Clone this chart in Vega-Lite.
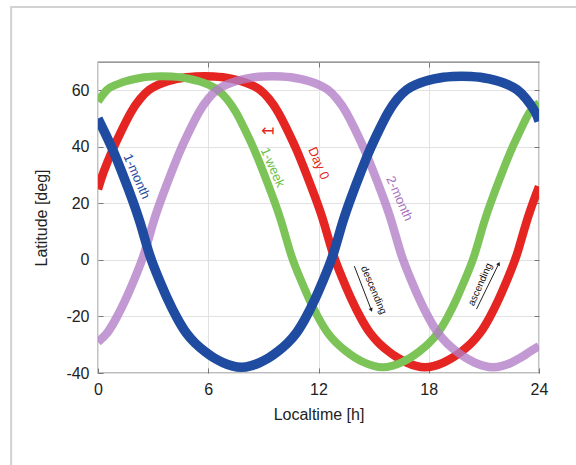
{
  "$schema": "https://vega.github.io/schema/vega-lite/v6.json",
  "autosize": {"type": "none"},
  "width": 441,
  "height": 311,
  "padding": {"left": 98, "top": 62, "right": 37, "bottom": 92},
  "background": "white",
  "config": {
    "view": {"stroke": "#7a7a7a", "strokeWidth": 1.3},
    "font": "Liberation Sans",
    "axis": {
      "domain": false,
      "ticks": true,
      "tickSize": -5,
      "tickColor": "#777777",
      "gridColor": "#e2e2e2",
      "gridWidth": 1,
      "labelFont": "Liberation Sans",
      "labelFontSize": 16,
      "labelColor": "#222222",
      "titleFont": "Liberation Sans",
      "titleFontSize": 16,
      "titleFontWeight": "normal",
      "titleColor": "#222222"
    }
  },
  "resolve": {"axis": {"x": "independent", "y": "independent"}},
  "datasets": {
    "curves": [
      {"series": "Day 0", "h": 0, "lat": 25}, {"series": "Day 0", "h": 0.3, "lat": 31}, {"series": "Day 0", "h": 0.8, "lat": 39}, {"series": "Day 0", "h": 1.3, "lat": 46}, {"series": "Day 0", "h": 1.8, "lat": 52.3}, {"series": "Day 0", "h": 2.3, "lat": 57}, {"series": "Day 0", "h": 2.8, "lat": 60.2}, {"series": "Day 0", "h": 3.3, "lat": 62}, {"series": "Day 0", "h": 3.8, "lat": 63.2}, {"series": "Day 0", "h": 4.3, "lat": 64}, {"series": "Day 0", "h": 4.8, "lat": 64.6}, {"series": "Day 0", "h": 5.3, "lat": 64.9}, {"series": "Day 0", "h": 5.8, "lat": 65}, {"series": "Day 0", "h": 6.3, "lat": 64.9}, {"series": "Day 0", "h": 6.8, "lat": 64.6}, {"series": "Day 0", "h": 7.3, "lat": 64}, {"series": "Day 0", "h": 7.8, "lat": 63.2}, {"series": "Day 0", "h": 8.3, "lat": 62}, {"series": "Day 0", "h": 8.8, "lat": 60.2}, {"series": "Day 0", "h": 9.3, "lat": 57}, {"series": "Day 0", "h": 9.8, "lat": 52.3}, {"series": "Day 0", "h": 10.3, "lat": 46}, {"series": "Day 0", "h": 10.8, "lat": 39}, {"series": "Day 0", "h": 11.3, "lat": 31}, {"series": "Day 0", "h": 11.8, "lat": 22.5}, {"series": "Day 0", "h": 12.3, "lat": 13}, {"series": "Day 0", "h": 12.8, "lat": 2}, {"series": "Day 0", "h": 13.3, "lat": -6.5}, {"series": "Day 0", "h": 13.8, "lat": -14}, {"series": "Day 0", "h": 14.3, "lat": -20.5}, {"series": "Day 0", "h": 14.8, "lat": -25.8}, {"series": "Day 0", "h": 15.3, "lat": -29.5}, {"series": "Day 0", "h": 15.8, "lat": -32.3}, {"series": "Day 0", "h": 16.3, "lat": -34.6}, {"series": "Day 0", "h": 16.8, "lat": -36.3}, {"series": "Day 0", "h": 17.3, "lat": -37.5}, {"series": "Day 0", "h": 17.8, "lat": -38}, {"series": "Day 0", "h": 18.3, "lat": -37.5}, {"series": "Day 0", "h": 18.8, "lat": -36.3}, {"series": "Day 0", "h": 19.3, "lat": -34.6}, {"series": "Day 0", "h": 19.8, "lat": -32.3}, {"series": "Day 0", "h": 20.3, "lat": -29.5}, {"series": "Day 0", "h": 20.8, "lat": -25.8}, {"series": "Day 0", "h": 21.3, "lat": -20.5}, {"series": "Day 0", "h": 21.8, "lat": -14}, {"series": "Day 0", "h": 22.3, "lat": -6.5}, {"series": "Day 0", "h": 22.8, "lat": 2}, {"series": "Day 0", "h": 23.3, "lat": 13}, {"series": "Day 0", "h": 23.8, "lat": 22.5}, {"series": "Day 0", "h": 24, "lat": 26},

      {"series": "1-week", "h": 0, "lat": 56}, {"series": "1-week", "h": 0.5, "lat": 60.2}, {"series": "1-week", "h": 1, "lat": 62}, {"series": "1-week", "h": 1.5, "lat": 63.2}, {"series": "1-week", "h": 2, "lat": 64}, {"series": "1-week", "h": 2.5, "lat": 64.6}, {"series": "1-week", "h": 3, "lat": 64.9}, {"series": "1-week", "h": 3.5, "lat": 65}, {"series": "1-week", "h": 4, "lat": 64.9}, {"series": "1-week", "h": 4.5, "lat": 64.6}, {"series": "1-week", "h": 5, "lat": 64}, {"series": "1-week", "h": 5.5, "lat": 63.2}, {"series": "1-week", "h": 6, "lat": 62}, {"series": "1-week", "h": 6.5, "lat": 60.2}, {"series": "1-week", "h": 7, "lat": 57}, {"series": "1-week", "h": 7.5, "lat": 52.3}, {"series": "1-week", "h": 8, "lat": 46}, {"series": "1-week", "h": 8.5, "lat": 39}, {"series": "1-week", "h": 9, "lat": 31}, {"series": "1-week", "h": 9.5, "lat": 22.5}, {"series": "1-week", "h": 10, "lat": 13}, {"series": "1-week", "h": 10.5, "lat": 2}, {"series": "1-week", "h": 11, "lat": -6.5}, {"series": "1-week", "h": 11.5, "lat": -14}, {"series": "1-week", "h": 12, "lat": -20.5}, {"series": "1-week", "h": 12.5, "lat": -25.8}, {"series": "1-week", "h": 13, "lat": -29.5}, {"series": "1-week", "h": 13.5, "lat": -32.3}, {"series": "1-week", "h": 14, "lat": -34.6}, {"series": "1-week", "h": 14.5, "lat": -36.3}, {"series": "1-week", "h": 15, "lat": -37.5}, {"series": "1-week", "h": 15.5, "lat": -38}, {"series": "1-week", "h": 16, "lat": -37.5}, {"series": "1-week", "h": 16.5, "lat": -36.3}, {"series": "1-week", "h": 17, "lat": -34.6}, {"series": "1-week", "h": 17.5, "lat": -32.3}, {"series": "1-week", "h": 18, "lat": -29.5}, {"series": "1-week", "h": 18.5, "lat": -25.8}, {"series": "1-week", "h": 19, "lat": -20.5}, {"series": "1-week", "h": 19.5, "lat": -14}, {"series": "1-week", "h": 20, "lat": -6.5}, {"series": "1-week", "h": 20.5, "lat": 2}, {"series": "1-week", "h": 21, "lat": 13}, {"series": "1-week", "h": 21.5, "lat": 22.5}, {"series": "1-week", "h": 22, "lat": 31}, {"series": "1-week", "h": 22.5, "lat": 39}, {"series": "1-week", "h": 23, "lat": 46}, {"series": "1-week", "h": 23.5, "lat": 52.3}, {"series": "1-week", "h": 24, "lat": 55.5},

      {"series": "2-month", "h": 0, "lat": -29}, {"series": "2-month", "h": 0.5, "lat": -25.8}, {"series": "2-month", "h": 1, "lat": -20.5}, {"series": "2-month", "h": 1.5, "lat": -14}, {"series": "2-month", "h": 2, "lat": -6.5}, {"series": "2-month", "h": 2.5, "lat": 2}, {"series": "2-month", "h": 3, "lat": 13}, {"series": "2-month", "h": 3.5, "lat": 22.5}, {"series": "2-month", "h": 4, "lat": 31}, {"series": "2-month", "h": 4.5, "lat": 39}, {"series": "2-month", "h": 5, "lat": 46}, {"series": "2-month", "h": 5.5, "lat": 52.3}, {"series": "2-month", "h": 6, "lat": 57}, {"series": "2-month", "h": 6.5, "lat": 60.2}, {"series": "2-month", "h": 7, "lat": 62}, {"series": "2-month", "h": 7.5, "lat": 63.2}, {"series": "2-month", "h": 8, "lat": 64}, {"series": "2-month", "h": 8.5, "lat": 64.6}, {"series": "2-month", "h": 9, "lat": 64.9}, {"series": "2-month", "h": 9.5, "lat": 65}, {"series": "2-month", "h": 10, "lat": 64.9}, {"series": "2-month", "h": 10.5, "lat": 64.6}, {"series": "2-month", "h": 11, "lat": 64}, {"series": "2-month", "h": 11.5, "lat": 63.2}, {"series": "2-month", "h": 12, "lat": 62}, {"series": "2-month", "h": 12.5, "lat": 60.2}, {"series": "2-month", "h": 13, "lat": 57}, {"series": "2-month", "h": 13.5, "lat": 52.3}, {"series": "2-month", "h": 14, "lat": 46}, {"series": "2-month", "h": 14.5, "lat": 39}, {"series": "2-month", "h": 15, "lat": 31}, {"series": "2-month", "h": 15.5, "lat": 22.5}, {"series": "2-month", "h": 16, "lat": 13}, {"series": "2-month", "h": 16.5, "lat": 2}, {"series": "2-month", "h": 17, "lat": -6.5}, {"series": "2-month", "h": 17.5, "lat": -14}, {"series": "2-month", "h": 18, "lat": -20.5}, {"series": "2-month", "h": 18.5, "lat": -25.8}, {"series": "2-month", "h": 19, "lat": -29.5}, {"series": "2-month", "h": 19.5, "lat": -32.3}, {"series": "2-month", "h": 20, "lat": -34.6}, {"series": "2-month", "h": 20.5, "lat": -36.3}, {"series": "2-month", "h": 21, "lat": -37.5}, {"series": "2-month", "h": 21.5, "lat": -38}, {"series": "2-month", "h": 22, "lat": -37.5}, {"series": "2-month", "h": 22.5, "lat": -36.3}, {"series": "2-month", "h": 23, "lat": -34.6}, {"series": "2-month", "h": 23.5, "lat": -32.5}, {"series": "2-month", "h": 24, "lat": -30.5},

      {"series": "1-month", "h": 0, "lat": 50}, {"series": "1-month", "h": 0.3, "lat": 46}, {"series": "1-month", "h": 0.8, "lat": 39}, {"series": "1-month", "h": 1.3, "lat": 31}, {"series": "1-month", "h": 1.8, "lat": 22.5}, {"series": "1-month", "h": 2.3, "lat": 13}, {"series": "1-month", "h": 2.8, "lat": 2}, {"series": "1-month", "h": 3.3, "lat": -6.5}, {"series": "1-month", "h": 3.8, "lat": -14}, {"series": "1-month", "h": 4.3, "lat": -20.5}, {"series": "1-month", "h": 4.8, "lat": -25.8}, {"series": "1-month", "h": 5.3, "lat": -29.5}, {"series": "1-month", "h": 5.8, "lat": -32.3}, {"series": "1-month", "h": 6.3, "lat": -34.6}, {"series": "1-month", "h": 6.8, "lat": -36.3}, {"series": "1-month", "h": 7.3, "lat": -37.5}, {"series": "1-month", "h": 7.8, "lat": -38}, {"series": "1-month", "h": 8.3, "lat": -37.5}, {"series": "1-month", "h": 8.8, "lat": -36.3}, {"series": "1-month", "h": 9.3, "lat": -34.6}, {"series": "1-month", "h": 9.8, "lat": -32.3}, {"series": "1-month", "h": 10.3, "lat": -29.5}, {"series": "1-month", "h": 10.8, "lat": -25.8}, {"series": "1-month", "h": 11.3, "lat": -20.5}, {"series": "1-month", "h": 11.8, "lat": -14}, {"series": "1-month", "h": 12.3, "lat": -6.5}, {"series": "1-month", "h": 12.8, "lat": 2}, {"series": "1-month", "h": 13.3, "lat": 13}, {"series": "1-month", "h": 13.8, "lat": 22.5}, {"series": "1-month", "h": 14.3, "lat": 31}, {"series": "1-month", "h": 14.8, "lat": 39}, {"series": "1-month", "h": 15.3, "lat": 46}, {"series": "1-month", "h": 15.8, "lat": 52.3}, {"series": "1-month", "h": 16.3, "lat": 57}, {"series": "1-month", "h": 16.8, "lat": 60.2}, {"series": "1-month", "h": 17.3, "lat": 62}, {"series": "1-month", "h": 17.8, "lat": 63.2}, {"series": "1-month", "h": 18.3, "lat": 64}, {"series": "1-month", "h": 18.8, "lat": 64.6}, {"series": "1-month", "h": 19.3, "lat": 64.9}, {"series": "1-month", "h": 19.8, "lat": 65}, {"series": "1-month", "h": 20.3, "lat": 64.9}, {"series": "1-month", "h": 20.8, "lat": 64.6}, {"series": "1-month", "h": 21.3, "lat": 64}, {"series": "1-month", "h": 21.8, "lat": 63.2}, {"series": "1-month", "h": 22.3, "lat": 62}, {"series": "1-month", "h": 22.8, "lat": 60.2}, {"series": "1-month", "h": 23.3, "lat": 57}, {"series": "1-month", "h": 23.8, "lat": 52.3}, {"series": "1-month", "h": 24, "lat": 49}
    ],
    "labels": [
      {"series": "1-month", "text": "1-month", "h": 2.1, "lat": 29.5},
      {"series": "1-week", "text": "1-week", "h": 9.5, "lat": 32.7},
      {"series": "Day 0", "text": "Day 0", "h": 12.0, "lat": 34.1},
      {"series": "2-month", "text": "2-month", "h": 16.4, "lat": 21.7}
    ],
    "pointer": [{"series": "Day 0", "text": "↤", "h": 9.25, "lat": 45.5}],
    "desc": [{"text": "descending", "h": 15.0, "lat": -10.7}],
    "asc": [{"text": "ascending", "h": 20.8, "lat": -8.7}],
    "descArrow": [{"h": 13.95, "lat": -2.2, "h2": 14.86, "lat2": -17.5}],
    "ascArrow": [{"h": 20.6, "lat": -17.4, "h2": 21.8, "lat2": -1.5}],
    "frame": [{"left": -4.73, "right": 26.23, "top": 89.45, "bottom": -74.3}]
  },
  "layer": [
    {
      "data": {"name": "frame"},
      "mark": {"type": "rect", "filled": false, "stroke": "#d2d2d2", "strokeWidth": 2, "clip": false},
      "encoding": {
        "x": {"field": "left", "type": "quantitative", "scale": {"domain": [0, 24], "nice": false, "zero": false}, "axis": {"values": [0, 6, 12, 18, 24], "title": "Localtime [h]", "labelPadding": 13, "titlePadding": 9, "labelFlush": false}},
        "x2": {"field": "right"},
        "y": {"field": "top", "type": "quantitative", "scale": {"domain": [-40, 70], "nice": false, "zero": false}, "axis": {"values": [-40, -20, 0, 20, 40, 60], "title": "Latitude [deg]", "labelPadding": 14, "titlePadding": 16, "labelFlush": false, "labelExpr": "datum.value + ''"}},
        "y2": {"field": "bottom"}
      }
    },
    {
      "data": {"name": "frame"},
      "mark": {"type": "point", "opacity": 0},
      "encoding": {
        "x": {"field": "left", "type": "quantitative", "axis": {"orient": "top", "values": [6, 12, 18], "labels": false, "title": null, "grid": false}},
        "y": {"field": "top", "type": "quantitative", "axis": {"orient": "right", "values": [-20, 0, 20, 40, 60], "labels": false, "title": null, "grid": false}}
      }
    },
    {
      "data": {"name": "curves"},
      "transform": [{"filter": "datum.series === 'Day 0'"}],
      "mark": {"type": "line", "strokeWidth": 8.5, "interpolate": "natural", "color": "#e52521", "clip": true},
      "encoding": {"x": {"field": "h", "type": "quantitative", "axis": null}, "y": {"field": "lat", "type": "quantitative", "axis": null}}
    },
    {
      "data": {"name": "curves"},
      "transform": [{"filter": "datum.series === '1-week'"}],
      "mark": {"type": "line", "strokeWidth": 8, "interpolate": "natural", "color": "#7cc458", "clip": true},
      "encoding": {"x": {"field": "h", "type": "quantitative", "axis": null}, "y": {"field": "lat", "type": "quantitative", "axis": null}}
    },
    {
      "data": {"name": "curves"},
      "transform": [{"filter": "datum.series === '2-month'"}],
      "mark": {"type": "line", "strokeWidth": 8.5, "interpolate": "natural", "color": "#b27cc6", "opacity": 0.78, "clip": true},
      "encoding": {"x": {"field": "h", "type": "quantitative", "axis": null}, "y": {"field": "lat", "type": "quantitative", "axis": null}}
    },
    {
      "data": {"name": "curves"},
      "transform": [{"filter": "datum.series === '1-month'"}],
      "mark": {"type": "line", "strokeWidth": 9.5, "interpolate": "natural", "color": "#1f4ca0", "clip": true},
      "encoding": {"x": {"field": "h", "type": "quantitative", "axis": null}, "y": {"field": "lat", "type": "quantitative", "axis": null}}
    },
    {
      "data": {"name": "labels"},
      "mark": {"type": "text", "angle": 66, "fontSize": 13, "font": "Liberation Sans", "align": "center", "baseline": "middle"},
      "encoding": {
        "x": {"field": "h", "type": "quantitative", "axis": null},
        "y": {"field": "lat", "type": "quantitative", "axis": null},
        "text": {"field": "text"},
        "color": {"field": "series", "type": "nominal", "scale": {"domain": ["Day 0", "1-week", "2-month", "1-month"], "range": ["#e52521", "#6fbf4a", "#a873bf", "#1f4ca0"]}, "legend": null}
      }
    },
    {
      "data": {"name": "pointer"},
      "mark": {"type": "text", "fontSize": 16, "font": "DejaVu Sans", "color": "#e52521", "align": "center", "baseline": "middle"},
      "encoding": {"x": {"field": "h", "type": "quantitative", "axis": null}, "y": {"field": "lat", "type": "quantitative", "axis": null}, "text": {"field": "text"}}
    },
    {
      "data": {"name": "desc"},
      "mark": {"type": "text", "angle": 67, "fontSize": 10, "font": "Liberation Sans", "color": "#111111", "align": "center", "baseline": "middle"},
      "encoding": {"x": {"field": "h", "type": "quantitative", "axis": null}, "y": {"field": "lat", "type": "quantitative", "axis": null}, "text": {"field": "text"}}
    },
    {
      "data": {"name": "asc"},
      "mark": {"type": "text", "angle": -66, "fontSize": 10, "font": "Liberation Sans", "color": "#111111", "align": "center", "baseline": "middle"},
      "encoding": {"x": {"field": "h", "type": "quantitative", "axis": null}, "y": {"field": "lat", "type": "quantitative", "axis": null}, "text": {"field": "text"}}
    },
    {
      "data": {"name": "descArrow"},
      "mark": {"type": "rule", "color": "#222222", "strokeWidth": 1},
      "encoding": {"x": {"field": "h", "type": "quantitative", "axis": null}, "y": {"field": "lat", "type": "quantitative", "axis": null}, "x2": {"field": "h2"}, "y2": {"field": "lat2"}}
    },
    {
      "data": {"name": "descArrow"},
      "mark": {"type": "point", "shape": "triangle", "angle": 159, "size": 18, "filled": true, "color": "#222222", "opacity": 1},
      "encoding": {"x": {"field": "h2", "type": "quantitative", "axis": null}, "y": {"field": "lat2", "type": "quantitative", "axis": null}}
    },
    {
      "data": {"name": "ascArrow"},
      "mark": {"type": "rule", "color": "#222222", "strokeWidth": 1},
      "encoding": {"x": {"field": "h", "type": "quantitative", "axis": null}, "y": {"field": "lat", "type": "quantitative", "axis": null}, "x2": {"field": "h2"}, "y2": {"field": "lat2"}}
    },
    {
      "data": {"name": "ascArrow"},
      "mark": {"type": "point", "shape": "triangle", "angle": 25, "size": 18, "filled": true, "color": "#222222", "opacity": 1},
      "encoding": {"x": {"field": "h2", "type": "quantitative", "axis": null}, "y": {"field": "lat2", "type": "quantitative", "axis": null}}
    }
  ]
}
